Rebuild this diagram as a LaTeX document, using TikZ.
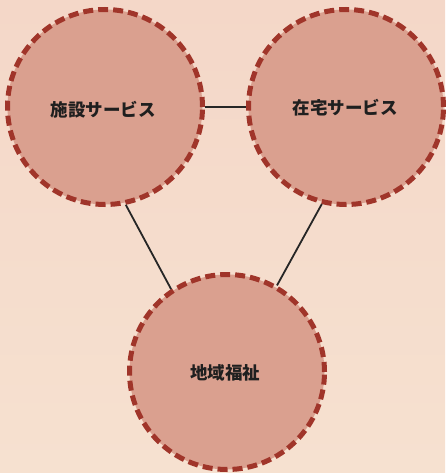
\documentclass[tikz,border=0pt]{standalone}
\usepackage{fontspec}
\newfontfamily\cjk{Noto Sans CJK JP}
\definecolor{bgtop}{HTML}{F4D7C8}
\definecolor{bgbot}{HTML}{F6E1D0}
\definecolor{circfill}{HTML}{DAA08F}
\definecolor{circline}{HTML}{A0352A}
\tikzset{
  bubble/.style={circle, minimum size=195pt, inner sep=0pt, fill=circfill,
    draw=circline, line width=5pt, dash pattern=on 10pt off 5pt},
  label/.style={font=\cjk\bfseries\fontsize{17.5pt}{20pt}\selectfont, text=black!88},
  link/.style={line width=1.8pt, draw=black!85}
}
\begin{document}
\begin{tikzpicture}[x=1pt,y=-1pt]
\shade[top color=bgtop, bottom color=bgbot] (0,0) rectangle (445,473);
\useasboundingbox (0,0) rectangle (445,473);
\node[bubble] (a) at (105,107) {};
\node[bubble] (b) at (346,107) {};
\node[bubble] (c) at (227,372) {};
\node[label] (ta) at (103,110) {施設サービス};
\node[label] (tb) at (345,108) {在宅サービス};
\node[label] (tc) at (225,373) {地域福祉};
\draw[link] (a.east) -- (b.west);
\draw[link] (a.-78) -- (c.124);
\draw[link] (b.-104) -- (c.60);
\end{tikzpicture}
\end{document}
